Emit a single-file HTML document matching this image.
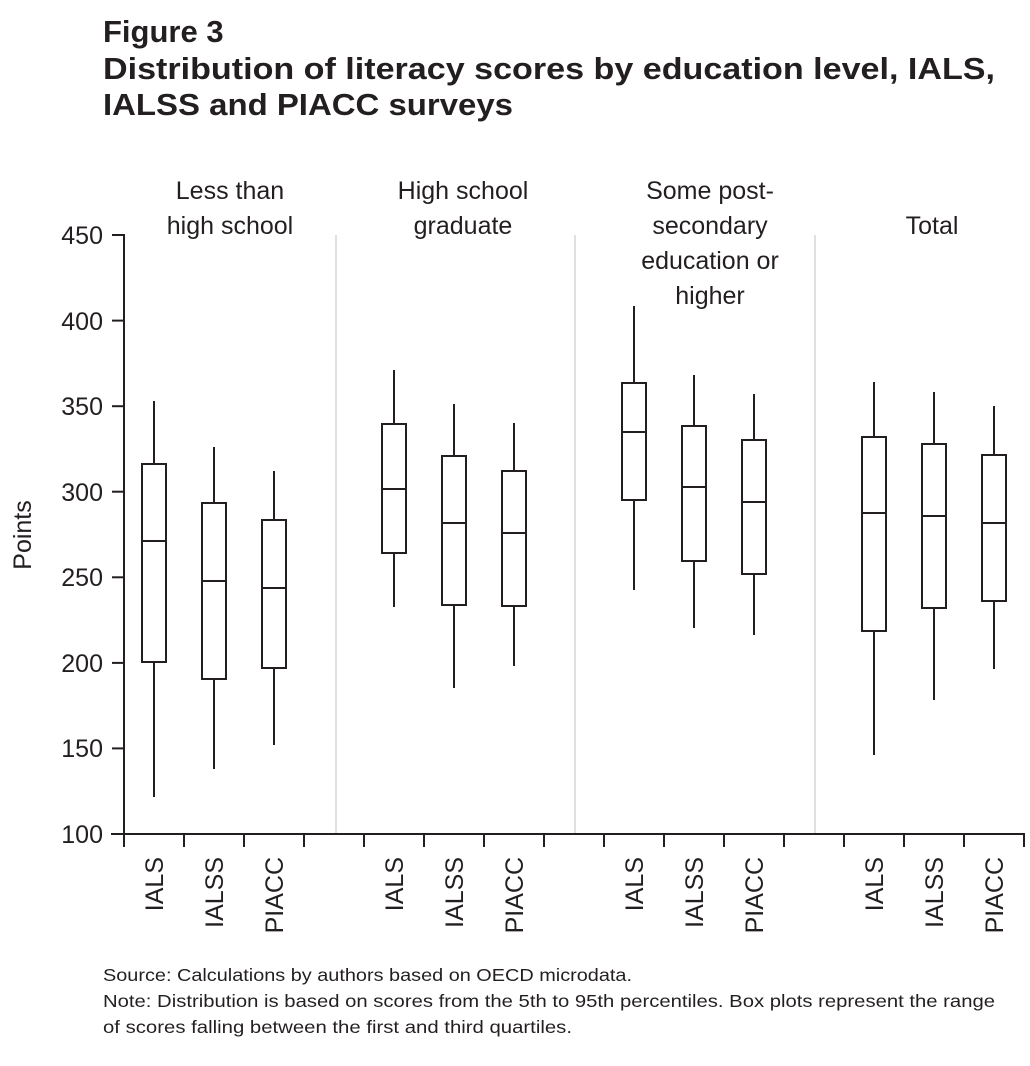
<!DOCTYPE html>
<html><head><meta charset="utf-8"><style>
html,body{margin:0;padding:0;background:#fff;}
svg{display:block;font-family:"Liberation Sans",sans-serif;}
</style></head><body>
<svg width="1030" height="1066" viewBox="0 0 1030 1066" xmlns="http://www.w3.org/2000/svg">
<g font-weight="bold" font-size="31" fill="#231f20">
<text x="103" y="42">Figure 3</text>
<text x="103" y="79" textLength="892" lengthAdjust="spacingAndGlyphs">Distribution of literacy scores by education level, IALS,</text>
<text x="103" y="115" textLength="410" lengthAdjust="spacingAndGlyphs">IALSS and PIACC surveys</text>
</g>
<g font-size="25" fill="#231f20" text-anchor="middle">
<text x="230" y="199">Less than</text><text x="230" y="234">high school</text>
<text x="463" y="199">High school</text><text x="463" y="234">graduate</text>
<text x="710" y="199">Some post-</text><text x="710" y="234">secondary</text><text x="710" y="269">education or</text><text x="710" y="304">higher</text>
<text x="932" y="234">Total</text>
</g>
<g stroke="#ccc" stroke-width="1.2">
<line x1="336" y1="235" x2="336" y2="834"/><line x1="575" y1="235" x2="575" y2="834"/><line x1="815" y1="235" x2="815" y2="834"/>
</g>
<g stroke="#231f20" stroke-width="2" fill="none">
<line x1="124" y1="234" x2="124" y2="835"/>
<line x1="111" y1="834" x2="1025" y2="834"/>
<line x1="112" y1="235" x2="124" y2="235"/><line x1="112" y1="320.6" x2="124" y2="320.6"/><line x1="112" y1="406.2" x2="124" y2="406.2"/><line x1="112" y1="491.7" x2="124" y2="491.7"/><line x1="112" y1="577.3" x2="124" y2="577.3"/><line x1="112" y1="662.9" x2="124" y2="662.9"/><line x1="112" y1="748.4" x2="124" y2="748.4"/>
<path d="M124 834v13M184 834v13M244 834v13M304 834v13M364 834v13M424 834v13M484 834v13M544 834v13M604 834v13M664 834v13M724 834v13M784 834v13M844 834v13M904 834v13M964 834v13M1024 834v13"/>
</g>
<g font-size="25" fill="#231f20" text-anchor="end">
<text x="103" y="244">450</text><text x="103" y="330">400</text><text x="103" y="415">350</text><text x="103" y="501">300</text><text x="103" y="586">250</text><text x="103" y="672">200</text><text x="103" y="757">150</text><text x="103" y="843">100</text>
</g>
<text transform="translate(31,535) rotate(-90)" font-size="25" fill="#231f20" text-anchor="middle">Points</text>
<g stroke="#231f20" stroke-width="2" fill="#fff">
<line x1="154" y1="401" x2="154" y2="797"/><rect x="142" y="464" width="24" height="198"/><line x1="142" y1="541" x2="166" y2="541"/>
<line x1="214" y1="447" x2="214" y2="769"/><rect x="202" y="503" width="24" height="176"/><line x1="202" y1="581" x2="226" y2="581"/>
<line x1="274" y1="471" x2="274" y2="745"/><rect x="262" y="520" width="24" height="148"/><line x1="262" y1="588" x2="286" y2="588"/>
<line x1="394" y1="370" x2="394" y2="607"/><rect x="382" y="424" width="24" height="129"/><line x1="382" y1="489" x2="406" y2="489"/>
<line x1="454" y1="404" x2="454" y2="688"/><rect x="442" y="456" width="24" height="149"/><line x1="442" y1="523" x2="466" y2="523"/>
<line x1="514" y1="423" x2="514" y2="666"/><rect x="502" y="471" width="24" height="135"/><line x1="502" y1="533" x2="526" y2="533"/>
<line x1="634" y1="306" x2="634" y2="590"/><rect x="622" y="383" width="24" height="117"/><line x1="622" y1="432" x2="646" y2="432"/>
<line x1="694" y1="375" x2="694" y2="628"/><rect x="682" y="426" width="24" height="135"/><line x1="682" y1="487" x2="706" y2="487"/>
<line x1="754" y1="394" x2="754" y2="635"/><rect x="742" y="440" width="24" height="134"/><line x1="742" y1="502" x2="766" y2="502"/>
<line x1="874" y1="382" x2="874" y2="755"/><rect x="862" y="437" width="24" height="194"/><line x1="862" y1="513" x2="886" y2="513"/>
<line x1="934" y1="392" x2="934" y2="700"/><rect x="922" y="444" width="24" height="164"/><line x1="922" y1="516" x2="946" y2="516"/>
<line x1="994" y1="406" x2="994" y2="669"/><rect x="982" y="455" width="24" height="146"/><line x1="982" y1="523" x2="1006" y2="523"/>
</g>
<g font-size="25" fill="#231f20" text-anchor="end">
<text transform="translate(163,857) rotate(-90)">IALS</text>
<text transform="translate(223,857) rotate(-90)">IALSS</text>
<text transform="translate(283,857) rotate(-90)">PIACC</text>
<text transform="translate(403,857) rotate(-90)">IALS</text>
<text transform="translate(463,857) rotate(-90)">IALSS</text>
<text transform="translate(523,857) rotate(-90)">PIACC</text>
<text transform="translate(643,857) rotate(-90)">IALS</text>
<text transform="translate(703,857) rotate(-90)">IALSS</text>
<text transform="translate(763,857) rotate(-90)">PIACC</text>
<text transform="translate(883,857) rotate(-90)">IALS</text>
<text transform="translate(943,857) rotate(-90)">IALSS</text>
<text transform="translate(1003,857) rotate(-90)">PIACC</text>
</g>
<g font-size="17.5" fill="#231f20">
<text x="103" y="981" textLength="529" lengthAdjust="spacingAndGlyphs">Source: Calculations by authors based on OECD microdata.</text>
<text x="103" y="1007" textLength="892" lengthAdjust="spacingAndGlyphs">Note: Distribution is based on scores from the 5th to 95th percentiles. Box plots represent the range</text>
<text x="103" y="1033" textLength="469" lengthAdjust="spacingAndGlyphs">of scores falling between the first and third quartiles.</text>
</g>
</svg>
</body></html>
